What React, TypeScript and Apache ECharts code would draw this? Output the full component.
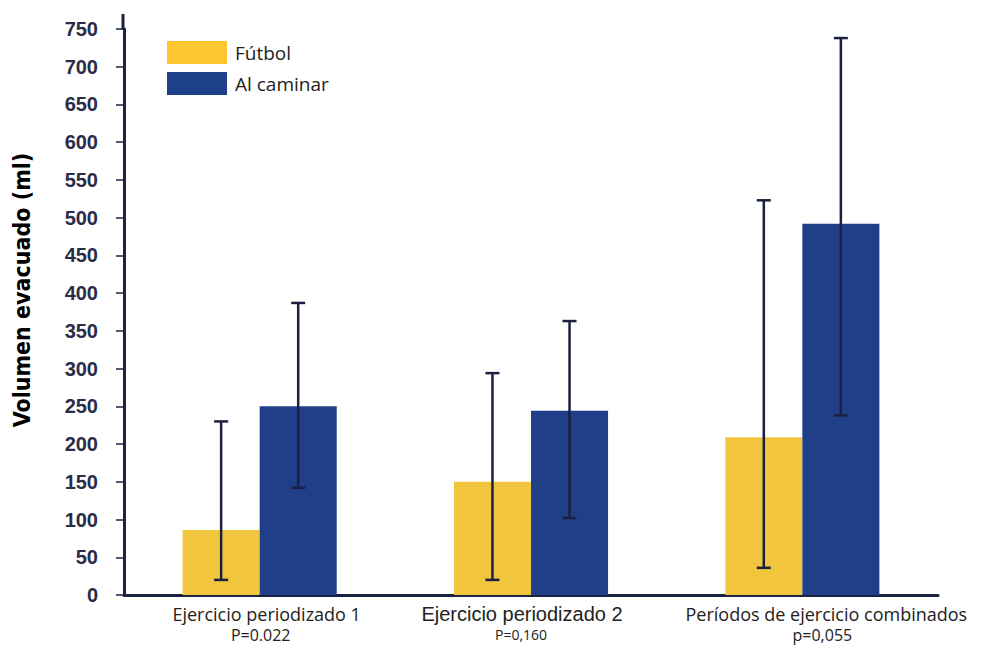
import React, { useEffect, useRef } from "react";
import * as echarts from "echarts";

// Exercise groups shown along the x axis, with their p-values
const categories = ["Ejercicio periodizado 1", "Ejercicio periodizado 2", "Períodos de ejercicio combinados"];
const pValues = ["P=0.022", "P=0,160", "p=0,055"];

// Mean evacuated volume (ml)
const futbol = [86, 150, 209];
const caminar = [250, 244, 492];

// Error bar ranges [low, high]
const futbolErr = [[20, 230], [20, 294], [36, 523]];
const caminarErr = [[142, 387], [102, 363], [238, 738]];

const BAR_RATIO = 0.284;
const ERR_COLOR = "#1b2040";
const AXIS_COLOR = "#1c2242";

function errorSeries(name: string, ranges: number[][], side: number) {
  return {
    type: "custom",
    name: name + "-err",
    z: 5,
    silent: true,
    data: ranges.map((r, i) => [i, r[0], r[1]]),
    encode: { x: 0, y: [1, 2] },
    renderItem: (params: any, api: any) => {
      const idx = api.value(0);
      const lo = api.coord([idx, api.value(1)]);
      const hi = api.coord([idx, api.value(2)]);
      const bw = api.size([1, 0])[0] * BAR_RATIO;
      const x = lo[0] + (side * bw) / 2;
      const cap = 7;
      const style = { stroke: ERR_COLOR, lineWidth: 2.5, fill: "none" };
      return {
        type: "group",
        children: [
          { type: "line", shape: { x1: x, y1: lo[1], x2: x, y2: hi[1] }, style },
          { type: "line", shape: { x1: x - cap, y1: hi[1], x2: x + cap, y2: hi[1] }, style },
          { type: "line", shape: { x1: x - cap, y1: lo[1], x2: x + cap, y2: lo[1] }, style },
        ],
      };
    },
  };
}

export default function App() {
  const ref = useRef<HTMLDivElement>(null);

  useEffect(() => {
    if (!ref.current) return;
    const chart = echarts.init(ref.current, undefined, { renderer: "svg" });
    const sans = "Open Sans";
    chart.setOption({
      animation: false,
      backgroundColor: "#ffffff",
      grid: { left: 124, right: 46, top: 29, bottom: 51, outerBoundsMode: "none" },
      legend: {
        orient: "vertical",
        left: 167,
        top: 41,
        padding: 0,
        icon: "rect",
        itemWidth: 60,
        itemHeight: 23,
        itemGap: 8,
        textStyle: { fontFamily: sans, fontSize: 19, color: "#222222", padding: [0, 0, 0, 3] },
        data: [
          { name: "Fútbol", itemStyle: { color: "#FEC62E" } },
          { name: "Al caminar", itemStyle: { color: "#1E3F8A" } },
        ],
      },
      xAxis: {
        type: "category",
        data: categories,
        axisLine: { lineStyle: { color: AXIS_COLOR, width: 3 } },
        axisTick: { show: false },
        axisLabel: {
          interval: 0,
          margin: 8,
          lineHeight: 21,
          formatter: (v: string, i: number) => `{t${i}|${v}}\n{p${i}|${pValues[i]}}`,
          rich: {
            t0: { fontFamily: sans, fontSize: 18, color: "#222222", lineHeight: 21, padding: [0, 0, 0, 14] },
            p0: { fontFamily: sans, fontSize: 16, color: "#222222", lineHeight: 21, padding: [0, 0, 0, 2] },
            t1: { fontFamily: "Liberation Sans, Arial, sans-serif", fontSize: 20, color: "#222222", lineHeight: 21, padding: [0, 18, 0, 0] },
            p1: { fontFamily: sans, fontSize: 14, color: "#222222", lineHeight: 21, padding: [0, 20, 0, 0] },
            t2: { fontFamily: sans, fontSize: 18, color: "#222222", lineHeight: 21, padding: [0, 0, 0, 48] },
            p2: { fontFamily: sans, fontSize: 16, color: "#222222", lineHeight: 21, padding: [0, 0, 0, 40] },
          },
        },
      },
      yAxis: {
        type: "value",
        min: 0,
        max: 750,
        interval: 50,
        splitLine: { show: false },
        axisLine: { show: true, lineStyle: { color: AXIS_COLOR, width: 3 } },
        axisTick: { show: true, length: 8, lineStyle: { color: AXIS_COLOR, width: 1.5 } },
        axisLabel: {
          margin: 26,
          fontFamily: "Liberation Sans, Arial, sans-serif",
          fontWeight: "bold",
          fontSize: 20,
          color: "#2a2c48",
        },
      },
      graphic: [
        {
          type: "line",
          shape: { x1: 123, y1: 14, x2: 123, y2: 30 },
          style: { stroke: AXIS_COLOR, lineWidth: 3 },
        },
        {
          type: "text",
          x: 22,
          y: 290,
          rotation: Math.PI / 2,
          style: {
            text: "Volumen evacuado (ml)",
            fontFamily: "DejaVu Sans Condensed, Liberation Sans Narrow, sans-serif",
            fontWeight: "bold",
            fontSize: 23,
            fill: "#000000",
            align: "center",
            verticalAlign: "middle",
          },
        },
      ],
      series: [
        {
          type: "bar",
          name: "Fútbol",
          data: futbol,
          barWidth: BAR_RATIO * 100 + "%",
          barGap: "0%",
          itemStyle: { color: "#F2C53E" },
        },
        {
          type: "bar",
          name: "Al caminar",
          data: caminar,
          barWidth: BAR_RATIO * 100 + "%",
          barGap: "0%",
          itemStyle: { color: "#213F88" },
        },
        errorSeries("Fútbol", futbolErr, -1),
        errorSeries("Al caminar", caminarErr, 1),
      ],
    });
    return () => chart.dispose();
  }, []);

  return <div ref={ref} style={{ position: "fixed", left: 0, top: 0, width: 984, height: 646 }} />;
}
